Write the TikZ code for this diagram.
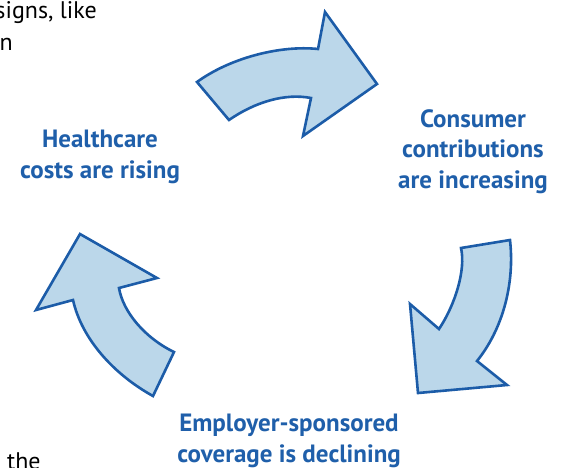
\documentclass[tikz,border=0pt]{standalone}
\usepackage{fontspec}
\setmainfont{PT Sans}
\definecolor{arrowfill}{HTML}{BBD7EA}
\definecolor{arrowline}{HTML}{1C5CA8}
\definecolor{labeltext}{HTML}{1F5FAA}
\begin{document}
\begin{tikzpicture}[x=1pt,y=-1pt,
  cyclearrow/.style={draw=arrowline, fill=arrowfill, line width=2.6pt, line join=miter},
  steplabel/.style={text=labeltext, font=\bfseries\fontsize{25}{30.5}\selectfont, align=center, inner sep=0pt},
  bodytext/.style={text=black, font=\fontsize{24}{28}\selectfont, inner sep=0pt}]
\useasboundingbox (0,0) rectangle (564,467);
\clip (0,0) rectangle (564,467);
% arrows
\draw[cyclearrow] (197,82) .. controls (230,58) and (280,45) .. (318,49) -- (325,12) -- (377,84) -- (303,136) -- (311,98) .. controls (285,93) and (255,102) .. (229,120) -- cycle;
\draw[cyclearrow] (461,248) -- (510,240) .. controls (515,285) and (502,330) .. (477,361) -- (507,385) -- (418,393) -- (410,304) -- (439,329) .. controls (455,305) and (466,270) .. (461,248) -- cycle;
\draw[cyclearrow] (80,234) -- (157,278) -- (119,288) .. controls (123,312) and (145,338) .. (174,352) -- (153,396) .. controls (115,375) and (82,340) .. (73,300) -- (36,310) -- cycle;
% labels
\node[steplabel, anchor=base] (health) at (100,178) {Healthcare\\costs are rising};
\node[steplabel, anchor=base] (consumer) at (473,188) {Consumer\\contributions\\are increasing};
\node[steplabel, anchor=base] (employer) at (289,462) {Employer-sponsored\\coverage is declining};
% cut-off body text
\node[bodytext, anchor=base east] (txta) at (97,18) {signs, like};
\node[bodytext, anchor=base east] (txtb) at (13,50) {n};
\node[bodytext, anchor=base west] (txtc) at (7,469) {the};
\end{tikzpicture}
\end{document}
